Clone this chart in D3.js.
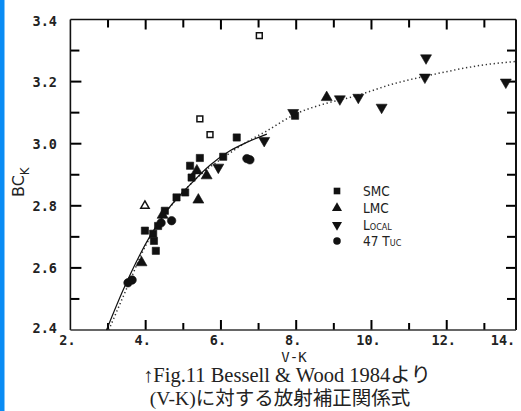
<!DOCTYPE html>
<html><head><meta charset="utf-8">
<script src="https://cdn.jsdelivr.net/npm/d3@7"></script>
<style>
html,body{margin:0;padding:0;background:#fff;}
svg{display:block;}
</style></head>
<body>
<svg id="chart" width="521" height="411"></svg>
<script>
// ---- data ----
const xMajorTicks = [2, 4, 6, 8, 10, 12, 14];
const xTickLabels = ["2.", "4.", "6.", "8.", "10.", "12.", "14."];
const xMinorTicks = [3, 5, 7, 9, 11, 13];
const yMajorTicks = [2.4, 2.6, 2.8, 3.0, 3.2, 3.4];
const yTickLabels = ["2.4", "2.6", "2.8", "3.0", "3.2", "3.4"];
const yMinorTicks = [2.5, 2.7, 2.9, 3.1, 3.3];

const smc = [[3.98,2.72],[4.22,2.687],[4.27,2.655],[4.20,2.71],[4.33,2.735],[4.51,2.784],
             [4.82,2.827],[5.05,2.843],[5.18,2.929],[5.44,2.954],[6.06,2.958],[6.42,3.02],
             [7.97,3.09],[5.22,2.891]];
const lmc = [[3.89,2.617],[5.40,2.819],[5.36,2.913],[5.62,2.897],[4.45,2.77],[8.81,3.149]];
const local = [[5.93,2.924],[7.15,3.01],[7.92,3.10],[9.16,3.144],[9.65,3.149],[10.27,3.117],
               [11.45,3.276],[11.42,3.214],[13.57,3.198]];
const tuc47 = [[3.53,2.552],[3.64,2.561],[4.69,2.752],[4.41,2.745],[6.69,2.952],[6.77,2.948]];
const openSquares = [[7.02,3.348],[5.44,3.08],[5.71,3.029]];
const openTriangles = [[3.98,2.80]];

const solidFit = [[2.96,2.40],[3.41,2.531],[4.12,2.703],[4.6,2.79],[5.18,2.868],[5.7,2.93],
                  [6.24,2.977],[6.7,3.005],[7.22,3.031]];
const dottedFit = [[3.02,2.40],[3.5,2.535],[4.0,2.672],[4.5,2.772],[5.0,2.845],[5.5,2.905],
                   [6.0,2.95],[6.68,3.005],[7.2,3.04],[8.01,3.097],[8.8,3.13],[9.43,3.149],
                   [9.87,3.165],[10.5,3.19],[11.38,3.216],[12.2,3.237],[12.88,3.252],[13.86,3.265]];

const legendNames = ["SMC", "LMC", "Local", "47 Tuc"];
const xTitle = "V-K";
const captionLines = ["↑Fig.11 Bessell & Wood 1984より", "(V-K)に対する放射補正関係式"];

// ---- layout ----
const svg = d3.select("#chart");
const pL = 70.4, pR = 516, pT = 19.5, pB = 330;
const x = d3.scaleLinear().domain([2, 14]).range([pL, 522]);
const y = d3.scaleLinear().domain([2.4, 3.4]).range([pB, pT]);

// blue side bar
svg.append("rect").attr("x", 0).attr("y", 0).attr("width", 4.5).attr("height", 411).attr("fill", "#0a8cf4");

const g = svg.append("g");

// tick marks (pointing inward), drawn as filled rects so they render crisply
const xMajIn = xMajorTicks.filter(v => v > 2 && x(v) < pR - 2);
const xMinIn = xMinorTicks.filter(v => x(v) < pR - 2);
const yMajIn = yMajorTicks.filter(v => v > 2.4 && v < 3.4);
const tk = g.append("g").attr("fill", "#000");
function vTicks(vals, yEdge, len, dir) {
  tk.append("g").selectAll("rect").data(vals).join("rect")
    .attr("x", d => x(d) - 1).attr("width", 2)
    .attr("y", dir > 0 ? yEdge : yEdge - len).attr("height", len);
}
function hTicks(vals, xEdge, len, dir) {
  tk.append("g").selectAll("rect").data(vals).join("rect")
    .attr("y", d => y(d) - 1).attr("height", 2)
    .attr("x", dir > 0 ? xEdge : xEdge - len).attr("width", len);
}
vTicks(xMajIn, pB, 10, -1);
vTicks(xMinIn, pB, 7, -1);
vTicks(xMajIn, pT, 10, 1);
vTicks(xMinIn, pT, 8, 1);
hTicks(yMajIn, pL, 11, 1);
hTicks(yMinorTicks, pL, 9, 1);
hTicks(yMajIn, pR, 10, -1);
hTicks(yMinorTicks, pR, 9, -1);

// frame
const frame = g.append("g").attr("stroke", "#111").attr("stroke-width", 1.6).attr("fill", "none");
frame.append("line").attr("x1", pL).attr("x2", pL).attr("y1", pT).attr("y2", pB);
frame.append("line").attr("x1", pL).attr("x2", pR).attr("y1", pT).attr("y2", pT);
frame.append("line").attr("x1", pR).attr("x2", pR).attr("y1", pT).attr("y2", pB).attr("stroke-width", 2);
frame.append("line").attr("x1", pL).attr("x2", pR).attr("y1", pB).attr("y2", pB).attr("stroke", "#333");

// tick labels
const mono = "'DejaVu Sans Mono', 'Liberation Mono', monospace";
g.append("g").selectAll("text").data(xMajorTicks).join("text")
  .attr("x", d => Math.min(x(d) - 3, 503)).attr("y", 345)
  .attr("text-anchor", "middle").attr("font-family", mono).attr("font-weight", "bold")
  .attr("font-size", 13.5).attr("fill", "#222")
  .text((d, i) => xTickLabels[i]);
g.append("g").selectAll("text").data(yMajorTicks).join("text")
  .attr("x", 57).attr("y", d => y(d) + 5 - (d === 2.4 ? 2 : 0) + (d === 3.4 ? 1 : 0))
  .attr("text-anchor", "end").attr("font-family", mono).attr("font-weight", "bold")
  .attr("font-size", 13.5).attr("fill", "#222")
  .text((d, i) => yTickLabels[i]);

// axis titles
g.append("text").attr("x", 294).attr("y", 362).attr("text-anchor", "middle")
  .attr("font-family", mono).attr("font-size", 14).attr("fill", "#222").text(xTitle);
const yt = g.append("text").attr("transform", "translate(24,197) rotate(-90)")
  .attr("font-family", "'DejaVu Sans', sans-serif").attr("font-size", 16).attr("fill", "#222");
yt.append("tspan").text("BC");
yt.append("tspan").attr("dy", 5).attr("font-size", 12).text("K");

// fit curves
const line = d3.line().x(d => x(d[0])).y(d => y(d[1])).curve(d3.curveMonotoneX);
g.append("path").attr("d", line(dottedFit)).attr("fill", "none").attr("stroke", "#333")
  .attr("stroke-width", 1.5).attr("stroke-dasharray", "1.3,2.7");
g.append("path").attr("d", line(solidFit)).attr("fill", "none").attr("stroke", "#111")
  .attr("stroke-width", 1.2);

// markers
const sq = d3.symbol().type(d3.symbolSquare).size(52);
const tri = d3.symbol().type(d3.symbolTriangle).size(52);
const cir = d3.symbol().type(d3.symbolCircle).size(56);
function plot(data, sym, opts) {
  g.append("g").selectAll("path").data(data).join("path")
    .attr("d", sym)
    .attr("transform", d => `translate(${x(d[0])},${y(d[1])})${opts.rot ? " rotate(180)" : ""}`)
    .attr("fill", opts.open ? "#fff" : "#111")
    .attr("stroke", "#111").attr("stroke-width", opts.open ? 1.5 : 0.6);
}
plot(smc, sq, {});
plot(lmc, tri, {});
plot(local, tri, {rot: true});
plot(tuc47, cir, {});
plot(openSquares, d3.symbol().type(d3.symbolSquare).size(34), {open: true});
plot(openTriangles, d3.symbol().type(d3.symbolTriangle).size(30), {open: true});

// legend
const legTypes = [d3.symbolSquare, d3.symbolTriangle, d3.symbolTriangle, d3.symbolCircle];
const legY = [191, 208, 225, 241];
const leg = g.append("g");
legendNames.forEach((name, i) => {
  leg.append("path").attr("d", d3.symbol().type(legTypes[i]).size(44))
    .attr("transform", `translate(337,${legY[i]})${i === 2 ? " rotate(180)" : ""}`)
    .attr("fill", "#111");
  leg.append("text").attr("x", 363).attr("y", legY[i] + 5)
    .attr("font-family", "'DejaVu Sans Condensed', 'Liberation Sans Narrow', sans-serif")
    .attr("font-size", 13.5).attr("fill", "#222")
    .style("font-variant", "small-caps")
    .text(name);
});

// caption
const cap = svg.append("g").attr("font-family", "'Liberation Serif', 'DejaVu Serif', 'Noto Sans CJK JP', serif")
  .attr("fill", "#222");
cap.append("text").attr("x", 287).attr("y", 382).attr("text-anchor", "middle")
  .attr("font-size", 20.5).text(captionLines[0]);
cap.append("text").attr("x", 280).attr("y", 405).attr("text-anchor", "middle")
  .attr("font-size", 19.5).text(captionLines[1]);
</script>
</body></html>
